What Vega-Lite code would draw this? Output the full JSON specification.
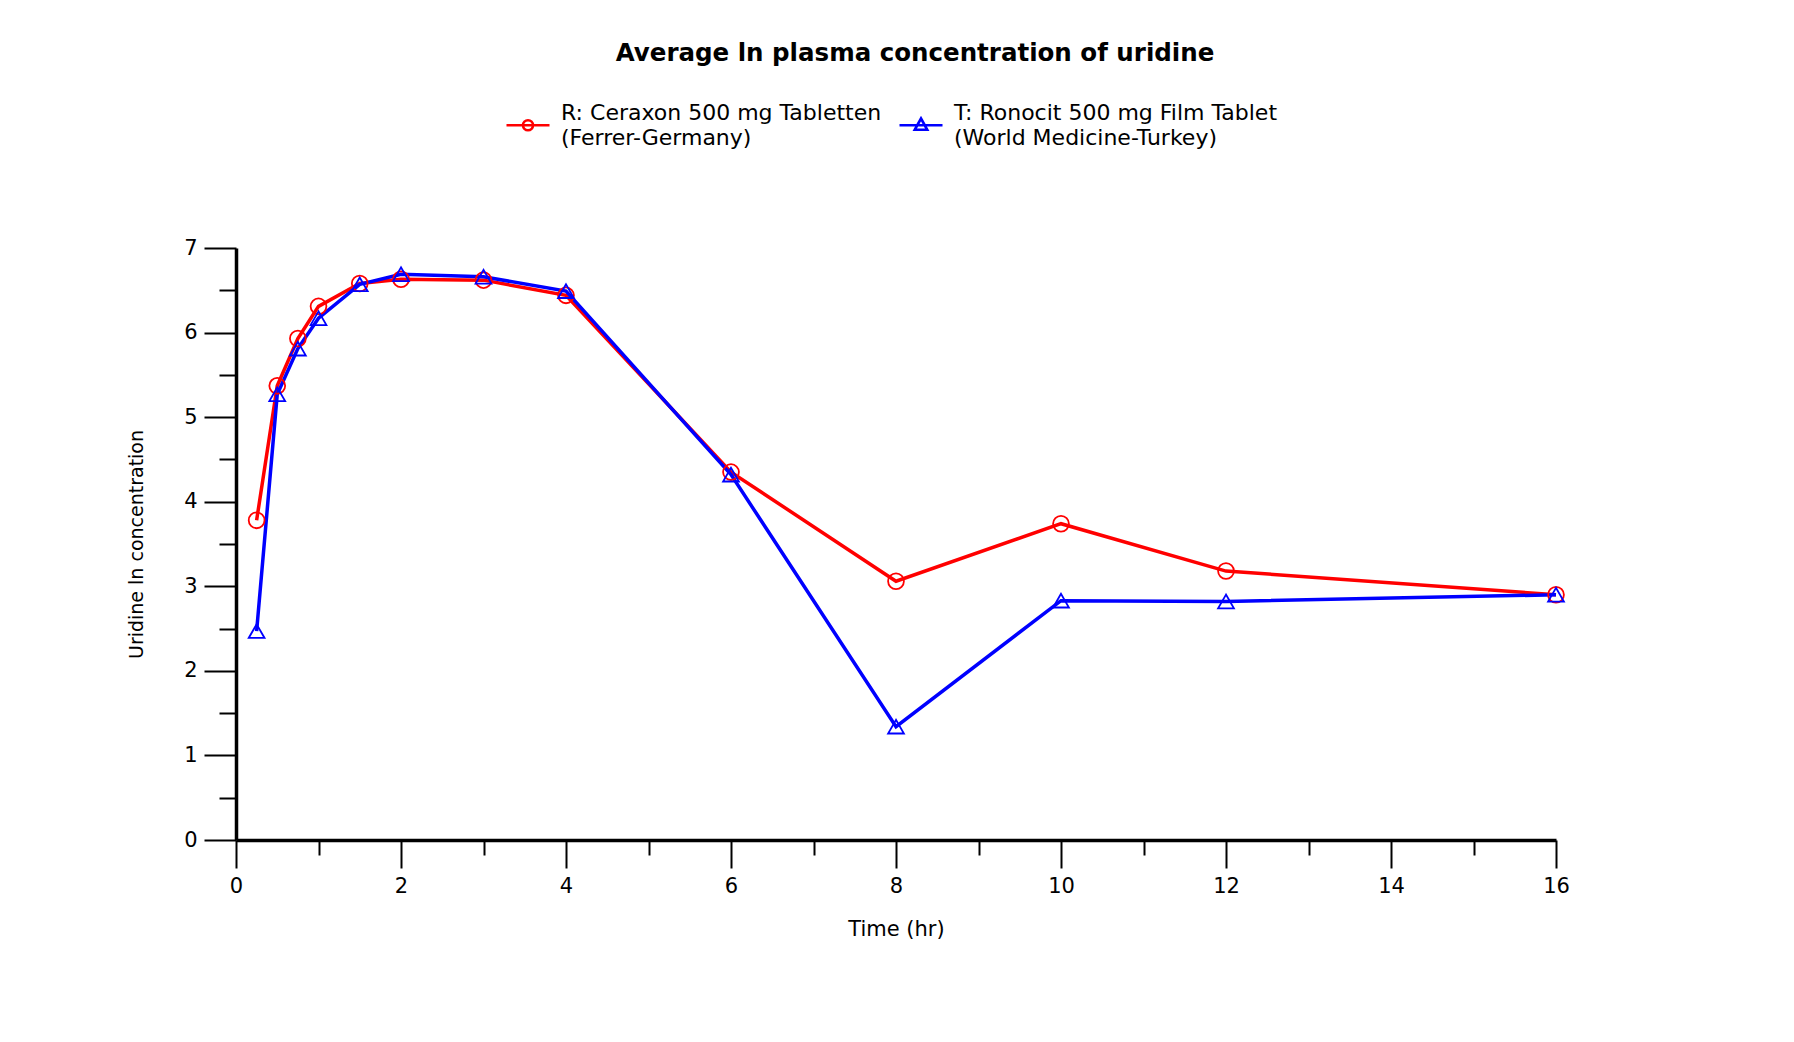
{
  "$schema": "https://vega.github.io/schema/vega-lite/v6.json",
  "width": 1320,
  "height": 592,
  "autosize": {"type": "none"},
  "padding": {"left": 236, "top": 248, "right": 238, "bottom": 202},
  "background": "white",
  "title": {
    "text": "Average ln plasma concentration of uridine",
    "font": "DejaVu Sans",
    "fontSize": 24.5,
    "fontWeight": "bold",
    "color": "black",
    "offset": 48,
    "dx": 19,
    "anchor": "middle"
  },
  "config": {
    "view": {"stroke": null},
    "font": "DejaVu Sans",
    "legend": {
      "orient": "none",
      "direction": "horizontal",
      "legendX": 281,
      "legendY": -134,
      "padding": 0,
      "labelFont": "DejaVu Sans",
      "labelFontSize": 22,
      "labelColor": "black",
      "labelLimit": 0,
      "labelOffset": 22,
      "columnPadding": 12,
      "symbolSize": 100,
      "symbolStrokeWidth": 2.6
    }
  },
  "data": {
    "values": [
      {"time": 0.25, "conc": 3.78, "series": "R", "formulation": "R: Ceraxon 500 mg Tabletten|(Ferrer-Germany)"},
      {"time": 0.5, "conc": 5.37, "series": "R", "formulation": "R: Ceraxon 500 mg Tabletten|(Ferrer-Germany)"},
      {"time": 0.75, "conc": 5.93, "series": "R", "formulation": "R: Ceraxon 500 mg Tabletten|(Ferrer-Germany)"},
      {"time": 1, "conc": 6.31, "series": "R", "formulation": "R: Ceraxon 500 mg Tabletten|(Ferrer-Germany)"},
      {"time": 1.5, "conc": 6.58, "series": "R", "formulation": "R: Ceraxon 500 mg Tabletten|(Ferrer-Germany)"},
      {"time": 2, "conc": 6.63, "series": "R", "formulation": "R: Ceraxon 500 mg Tabletten|(Ferrer-Germany)"},
      {"time": 3, "conc": 6.62, "series": "R", "formulation": "R: Ceraxon 500 mg Tabletten|(Ferrer-Germany)"},
      {"time": 4, "conc": 6.44, "series": "R", "formulation": "R: Ceraxon 500 mg Tabletten|(Ferrer-Germany)"},
      {"time": 6, "conc": 4.35, "series": "R", "formulation": "R: Ceraxon 500 mg Tabletten|(Ferrer-Germany)"},
      {"time": 8, "conc": 3.06, "series": "R", "formulation": "R: Ceraxon 500 mg Tabletten|(Ferrer-Germany)"},
      {"time": 10, "conc": 3.74, "series": "R", "formulation": "R: Ceraxon 500 mg Tabletten|(Ferrer-Germany)"},
      {"time": 12, "conc": 3.18, "series": "R", "formulation": "R: Ceraxon 500 mg Tabletten|(Ferrer-Germany)"},
      {"time": 16, "conc": 2.9, "series": "R", "formulation": "R: Ceraxon 500 mg Tabletten|(Ferrer-Germany)"},
      {"time": 0.25, "conc": 2.47, "series": "T", "formulation": "T: Ronocit 500 mg Film Tablet|(World Medicine-Turkey)"},
      {"time": 0.5, "conc": 5.27, "series": "T", "formulation": "T: Ronocit 500 mg Film Tablet|(World Medicine-Turkey)"},
      {"time": 0.75, "conc": 5.81, "series": "T", "formulation": "T: Ronocit 500 mg Film Tablet|(World Medicine-Turkey)"},
      {"time": 1, "conc": 6.17, "series": "T", "formulation": "T: Ronocit 500 mg Film Tablet|(World Medicine-Turkey)"},
      {"time": 1.5, "conc": 6.57, "series": "T", "formulation": "T: Ronocit 500 mg Film Tablet|(World Medicine-Turkey)"},
      {"time": 2, "conc": 6.69, "series": "T", "formulation": "T: Ronocit 500 mg Film Tablet|(World Medicine-Turkey)"},
      {"time": 3, "conc": 6.66, "series": "T", "formulation": "T: Ronocit 500 mg Film Tablet|(World Medicine-Turkey)"},
      {"time": 4, "conc": 6.49, "series": "T", "formulation": "T: Ronocit 500 mg Film Tablet|(World Medicine-Turkey)"},
      {"time": 6, "conc": 4.32, "series": "T", "formulation": "T: Ronocit 500 mg Film Tablet|(World Medicine-Turkey)"},
      {"time": 8, "conc": 1.34, "series": "T", "formulation": "T: Ronocit 500 mg Film Tablet|(World Medicine-Turkey)"},
      {"time": 10, "conc": 2.83, "series": "T", "formulation": "T: Ronocit 500 mg Film Tablet|(World Medicine-Turkey)"},
      {"time": 12, "conc": 2.82, "series": "T", "formulation": "T: Ronocit 500 mg Film Tablet|(World Medicine-Turkey)"},
      {"time": 16, "conc": 2.9, "series": "T", "formulation": "T: Ronocit 500 mg Film Tablet|(World Medicine-Turkey)"}
    ]
  },
  "encoding": {
    "x": {
      "field": "time",
      "type": "quantitative",
      "scale": {"domain": [0, 16], "nice": false},
      "axis": {
        "title": "Time (hr)",
        "values": [0, 1, 2, 3, 4, 5, 6, 7, 8, 9, 10, 11, 12, 13, 14, 15, 16],
        "labelExpr": "datum.value % 2 === 0 ? format(datum.value, 'd') : ''",
        "tickSize": {"condition": {"test": "datum.value % 2 === 0", "value": 28}, "value": 15},
        "tickWidth": 2,
        "tickColor": "black",
        "domainColor": "black",
        "domainWidth": 3.5,
        "grid": false,
        "labelFont": "DejaVu Sans",
        "labelFontSize": 21,
        "labelColor": "black",
        "labelPadding": 7,
        "labelFlush": false,
        "titleFont": "DejaVu Sans",
        "titleFontSize": 21,
        "titleFontWeight": "normal",
        "titleColor": "black",
        "titlePadding": 22
      }
    },
    "y": {
      "field": "conc",
      "type": "quantitative",
      "scale": {"domain": [0, 7], "nice": false},
      "axis": {
        "title": "Uridine ln concentration",
        "values": [0, 0.5, 1, 1.5, 2, 2.5, 3, 3.5, 4, 4.5, 5, 5.5, 6, 6.5, 7],
        "labelExpr": "datum.value % 1 === 0 ? format(datum.value, 'd') : ''",
        "tickSize": {"condition": {"test": "datum.value % 1 === 0", "value": 32}, "value": 17},
        "tickWidth": 2,
        "tickColor": "black",
        "domainColor": "black",
        "domainWidth": 3.5,
        "grid": false,
        "labelFont": "DejaVu Sans",
        "labelFontSize": 21,
        "labelColor": "black",
        "labelPadding": 7,
        "labelFlush": false,
        "titleFont": "DejaVu Sans",
        "titleFontSize": 19,
        "titleFontWeight": "normal",
        "titleColor": "black",
        "titlePadding": 37
      }
    },
    "color": {
      "field": "formulation",
      "type": "nominal",
      "scale": {
        "domain": ["R: Ceraxon 500 mg Tabletten|(Ferrer-Germany)", "T: Ronocit 500 mg Film Tablet|(World Medicine-Turkey)"],
        "range": ["#ff0000", "#0000ff"]
      },
      "legend": {
        "title": null,
        "labelExpr": "split(datum.label, '|')",
        "encode": {
          "symbols": {
            "update": {
              "shape": {"signal": "datum.value[0] === 'R' ? 'M-4.3,0L4.3,0M-1,0A1,1 0 1,1 1,0A1,1 0 1,1 -1,0' : 'M-4.3,0L4.3,0M0,-1.35L1.25,0.9L-1.25,0.9Z'"},
              "fill": {"value": "transparent"},
              "strokeWidth": {"value": 2.6},
              "opacity": {"value": 1}
            }
          },
          "labels": {
            "update": {
              "dy": {"value": -12.5},
              "lineHeight": {"value": 25}
            }
          }
        }
      }
    }
  },
  "layer": [
    {"mark": {"type": "line", "strokeWidth": 3.5}},
    {
      "mark": {"type": "point", "filled": false, "size": 250, "strokeWidth": 1.8, "opacity": 1},
      "encoding": {
        "shape": {
          "field": "series",
          "type": "nominal",
          "scale": {"domain": ["R", "T"], "range": ["circle", "triangle-up"]},
          "legend": null
        }
      }
    }
  ]
}
